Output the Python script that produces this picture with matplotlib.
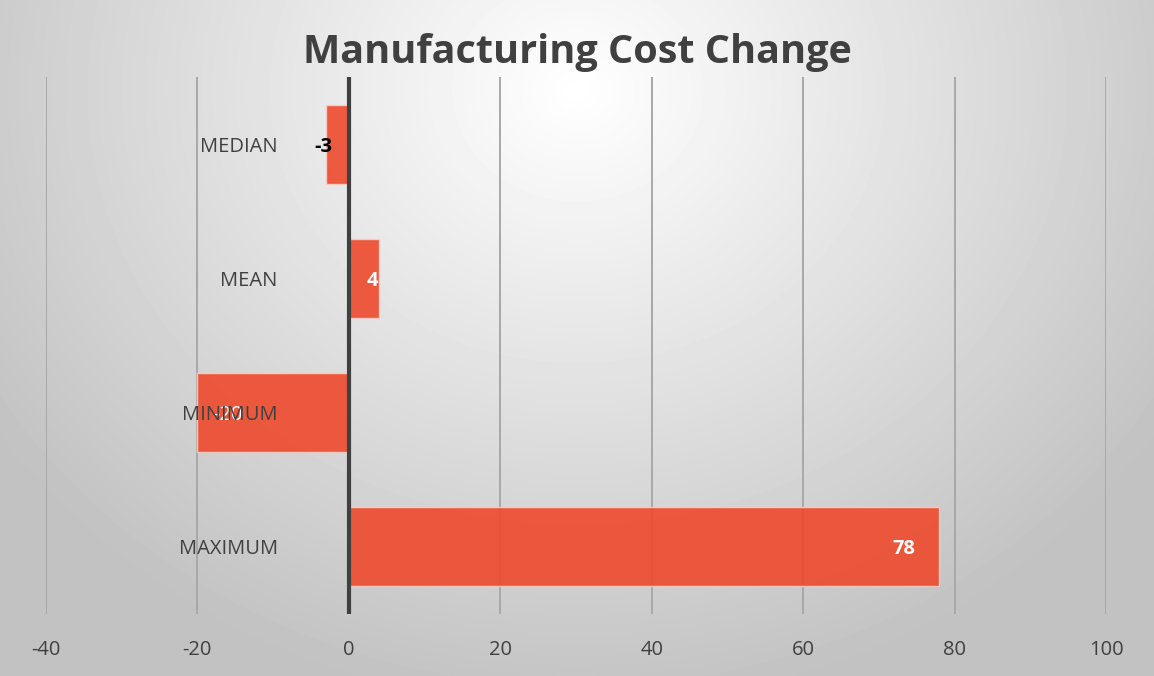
import numpy as np
import matplotlib.pyplot as plt

categories = ["MEDIAN", "MEAN", "MINIMUM", "MAXIMUM"]
values = [-3, 4, -20, 78]
label_colors = ["black", "white", "white", "white"]
label_weights = ["bold", "bold", "normal", "bold"]
x_ticks = [-40, -20, 0, 20, 40, 60, 80, 100]

plt.rcParams['font.family'] = ['Open Sans', 'DejaVu Sans']

W, H = 1154, 676
fig = plt.figure(figsize=(W / 100, H / 100), dpi=100)

# radial grey background like the Excel chart area
bg = fig.add_axes([0, 0, 1, 1])
yy, xx = np.mgrid[0:H, 0:W]
r = np.sqrt(((xx - 577) / 700.0) ** 2 + ((yy - 90) / 620.0) ** 2)
shade = np.clip(1.0 - 0.24 * r, 0.76, 1.0)
bg.imshow(shade, cmap='gray', vmin=0, vmax=1, aspect='auto', extent=[0, 1, 0, 1])
bg.axis('off')

ax = fig.add_axes([46 / W, (H - 614) / H, (1106 - 46) / W, (614 - 77) / H])
ax.patch.set_alpha(0)

ypos = np.arange(len(categories))[::-1]
for xt in x_ticks:
    if xt != 0:
        ax.axvline(xt, color='#a8a8a8', lw=1.4, zorder=1)
ax.barh(ypos, values, height=0.59, color='#EE4A2C', alpha=0.9,
        edgecolor='#f7d0c8', linewidth=1, zorder=2)
ax.axvline(0, color='#404040', lw=3, zorder=3)

ax.set_xlim(-40, 100)
ax.set_ylim(-0.5, 3.5)
ax.set_xticks(x_ticks)
ax.set_xticklabels([str(t) for t in x_ticks], fontsize=14.5, color='#404040')
ax.tick_params(axis='x', length=0, pad=19)
ax.set_yticks([])
for s in ax.spines.values():
    s.set_visible(False)

for y, cat in zip(ypos, categories):
    ax.annotate(cat, xy=(0, y), xytext=(-71, 0), textcoords='offset pixels',
                ha='right', va='center_baseline', fontsize=14.5, color='#404040', zorder=5)

# data labels at inside end
label_offsets = [-3, -7, 31, -35]
for y, v, c, w, off in zip(ypos, values, label_colors, label_weights, label_offsets):
    ax.annotate(str(v), xy=(v, y), xytext=(off, 0), textcoords='offset pixels',
                ha='center', va='center_baseline', fontsize=14.5, fontweight=w,
                color=c, zorder=4)

fig.text(0.5, 1 - 53 / H, "Manufacturing Cost Change", ha='center', va='center',
         fontsize=28.5, fontweight='bold', color='#404040')

fig.savefig('out.png', dpi=100)
